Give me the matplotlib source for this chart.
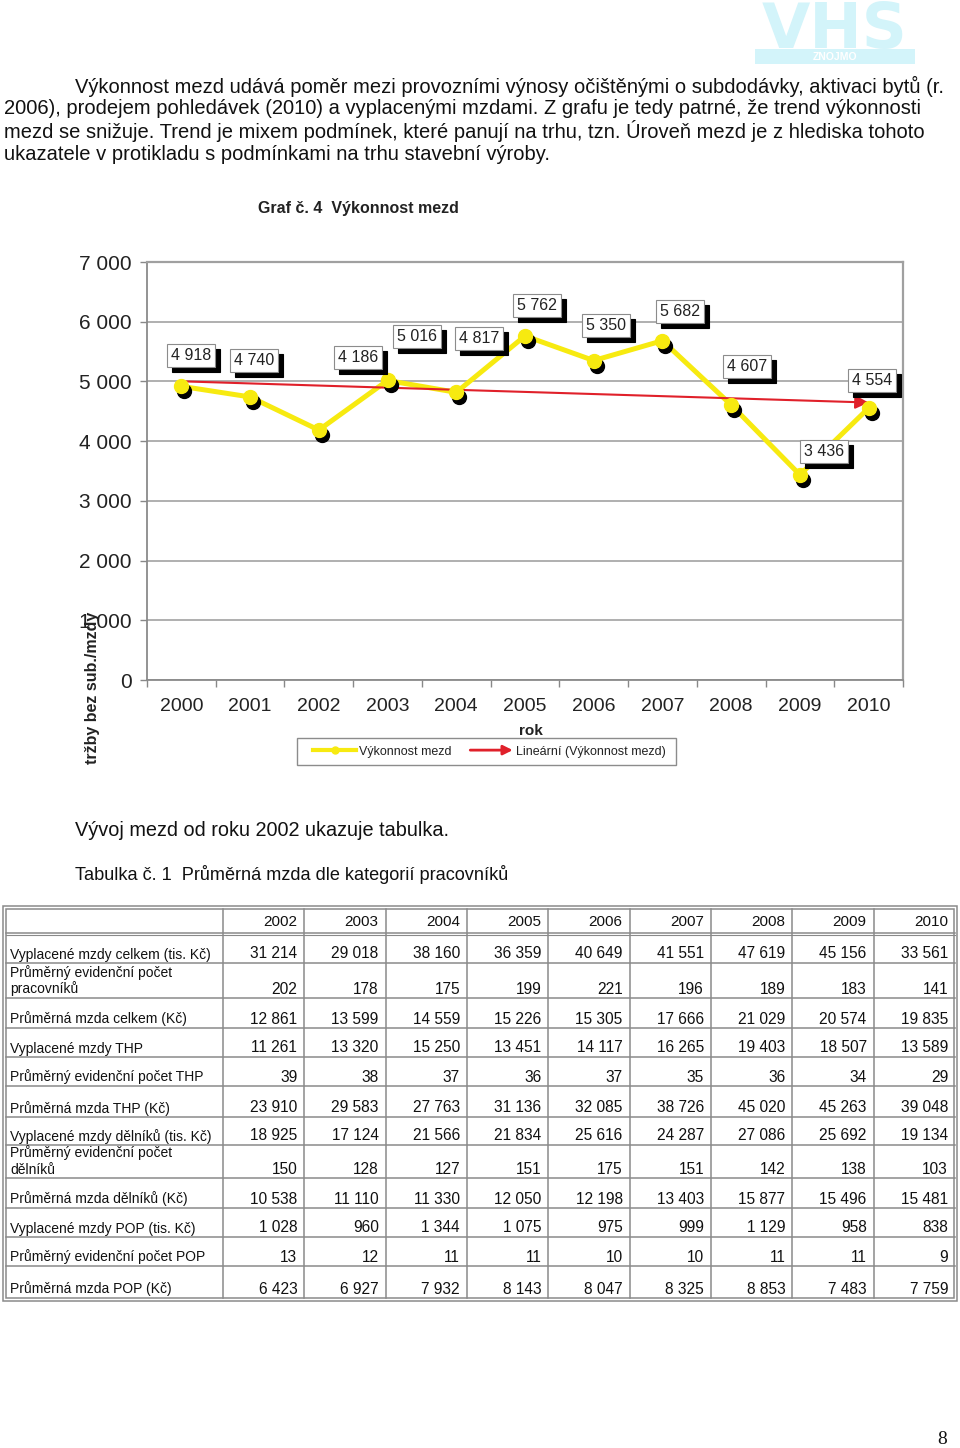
import matplotlib
matplotlib.use('Agg')
import matplotlib.pyplot as plt
import numpy as np
import matplotlib.transforms as mtransforms
from matplotlib.patches import Rectangle, FancyArrowPatch
from matplotlib.lines import Line2D
from matplotlib.legend_handler import HandlerBase
from matplotlib.ticker import FuncFormatter

plt.rcParams['font.family'] = ['Liberation Sans', 'DejaVu Sans']

# ---------------- data ----------------
years = ['2000', '2001', '2002', '2003', '2004', '2005', '2006', '2007', '2008', '2009', '2010']
vykonnost = [4918, 4740, 4186, 5016, 4817, 5762, 5350, 5682, 4607, 3436, 4554]
series_name = 'Výkonnost mezd'
trend_name = 'Lineární (Výkonnost mezd)'
y_ticks = [0, 1000, 2000, 3000, 4000, 5000, 6000, 7000]

table_years = ['2002', '2003', '2004', '2005', '2006', '2007', '2008', '2009', '2010']
row_labels = [
    'Vyplacené mzdy celkem (tis. Kč)',
    'Průměrný evidenční počet\npracovníků',
    'Průměrná mzda celkem (Kč)',
    'Vyplacené mzdy THP',
    'Průměrný evidenční počet THP',
    'Průměrná mzda THP (Kč)',
    'Vyplacené mzdy dělníků (tis. Kč)',
    'Průměrný evidenční počet\ndělníků',
    'Průměrná mzda dělníků (Kč)',
    'Vyplacené mzdy POP (tis. Kč)',
    'Průměrný evidenční počet POP',
    'Průměrná mzda POP (Kč)',
]
mzdy_celkem = [31214, 29018, 38160, 36359, 40649, 41551, 47619, 45156, 33561]
pocet_celkem = [202, 178, 175, 199, 221, 196, 189, 183, 141]
mzda_celkem = [12861, 13599, 14559, 15226, 15305, 17666, 21029, 20574, 19835]
mzdy_thp = [11261, 13320, 15250, 13451, 14117, 16265, 19403, 18507, 13589]
pocet_thp = [39, 38, 37, 36, 37, 35, 36, 34, 29]
mzda_thp = [23910, 29583, 27763, 31136, 32085, 38726, 45020, 45263, 39048]
mzdy_delniku = [18925, 17124, 21566, 21834, 25616, 24287, 27086, 25692, 19134]
pocet_delniku = [150, 128, 127, 151, 175, 151, 142, 138, 103]
mzda_delniku = [10538, 11110, 11330, 12050, 12198, 13403, 15877, 15496, 15481]
mzdy_pop = [1028, 960, 1344, 1075, 975, 999, 1129, 958, 838]
pocet_pop = [13, 12, 11, 11, 10, 10, 11, 11, 9]
mzda_pop = [6423, 6927, 7932, 8143, 8047, 8325, 8853, 7483, 7759]
table_rows = [mzdy_celkem, pocet_celkem, mzda_celkem, mzdy_thp, pocet_thp, mzda_thp,
              mzdy_delniku, pocet_delniku, mzda_delniku, mzdy_pop, pocet_pop, mzda_pop]

paragraph = [
    'Výkonnost mezd udává poměr mezi provozními výnosy očištěnými o subdodávky, aktivaci bytů (r.',
    '2006), prodejem pohledávek (2010) a vyplacenými mzdami. Z grafu je tedy patrné, že trend výkonnosti',
    'mezd se snižuje. Trend je mixem podmínek, které panují na trhu, tzn. Úroveň mezd je z hlediska tohoto',
    'ukazatele v protikladu s podmínkami na trhu stavební výroby.',
]
chart_title = 'Graf č. 4  Výkonnost mezd'
x_title = 'rok'
y_title = 'tržby bez sub./mzdy'
after_text = 'Vývoj mezd od roku 2002 ukazuje tabulka.'
table_title = 'Tabulka č. 1  Průměrná mzda dle kategorií pracovníků'

# ---------------- style / layout ----------------
W, H = 960, 1448
YELLOW = '#f7ea10'
RED = '#e0202a'
GRID = '#9a9a9a'
LOGO = '#d3f4fa'
# label offsets in pixels (dx right, dy up)
label_offsets = [(10, 31), (4, 36), (39, 73), (29, 44), (23, 54), (12, 30),
                 (12, 35), (18, 29), (16, 38), (24, 23), (3, 28)]

fmt = lambda v: f'{int(v):,}'.replace(',', ' ')

fig = plt.figure(figsize=(W / 100, H / 100), dpi=100)
page = fig.add_axes([0, 0, 1, 1])
page.set_xlim(0, W)
page.set_ylim(H, 0)
page.axis('off')


def px_rect(l, t, r, b):
    return [l / W, 1 - b / H, (r - l) / W, (b - t) / H]


# logo
page.text(835, 48, 'VHS', fontsize=45, fontweight='bold', color=LOGO,
          family=['DejaVu Sans'], ha='center', va='baseline')
page.add_patch(Rectangle((755, 49), 160, 15, color=LOGO, lw=0))
page.text(835, 56.5, 'ZNOJMO', fontsize=7.5, fontweight='bold', color='white',
          ha='center', va='center')

# paragraph
para_x = [75, 4, 4, 4]
para_y = [86, 108, 131, 154]
for t, xx, yy in zip(paragraph, para_x, para_y):
    page.text(xx, yy, t, fontsize=14.5, va='center', ha='left', color='#111')

page.text(258, 209, chart_title, fontsize=11.5, fontweight='bold', va='center', color='#222')

# ---------------- chart ----------------
ax = fig.add_axes(px_rect(147, 262, 903, 680))
ax.set_zorder(2)
x = np.arange(len(years))
ax.plot(x, vykonnost, color=YELLOW, lw=3.6, zorder=3, solid_joinstyle='round')

coef = np.polyfit(x, vykonnost, 1)
t0, t1 = np.polyval(coef, [x[0], x[-1]])
ax.annotate('', xy=(x[-1], t1), xytext=(x[0], t0),
            arrowprops=dict(arrowstyle='-|>', color=RED, lw=1.5, mutation_scale=20,
                            shrinkA=0, shrinkB=0), zorder=3.5)

shadow = mtransforms.offset_copy(ax.transData, fig=fig, x=3, y=-5, units='dots')
ax.plot(x, vykonnost, 'o', color='black', ms=10, transform=shadow, zorder=3.6)
ax.plot(x, vykonnost, 'o', color=YELLOW, ms=10, zorder=3.8)

for i, v in enumerate(vykonnost):
    dx, dy = label_offsets[i]
    ax.annotate(fmt(v), xy=(x[i], v), xytext=((dx + 5) * 0.72, (dy - 5) * 0.72),
                textcoords='offset points', ha='center', va='center', fontsize=11.5,
                color='black', zorder=4.8,
                bbox=dict(boxstyle='square,pad=0.25', fc='black', ec='black', lw=0.8))
    ax.annotate(fmt(v), xy=(x[i], v), xytext=(dx * 0.72, dy * 0.72),
                textcoords='offset points', ha='center', va='center', fontsize=11.5,
                color='#222', zorder=5,
                bbox=dict(boxstyle='square,pad=0.25', fc='white', ec='#8c8c8c', lw=0.8))

ax.set_xlim(-0.5, len(years) - 0.5)
ax.set_ylim(y_ticks[0], y_ticks[-1])
ax.set_yticks(y_ticks)
ax.yaxis.set_major_formatter(FuncFormatter(lambda v, p: fmt(v)))
ax.set_xticks(np.arange(-0.5, len(years), 1))
ax.set_xticklabels([])
ax.set_xticks(x, minor=True)
ax.set_xticklabels(years, minor=True)
ax.tick_params(axis='x', which='major', length=5, width=1, color='#888', direction='out')
ax.tick_params(axis='x', which='minor', length=0, pad=13, labelsize=14, labelcolor='#222')
ax.tick_params(axis='y', length=5, width=1, color='#888', direction='out', pad=6,
               labelsize=15, labelcolor='#222')
ax.yaxis.grid(True, color=GRID, lw=1.1)
ax.set_axisbelow(True)
for s in ['left', 'bottom']:
    ax.spines[s].set_color('#8a8a8a')
    ax.spines[s].set_linewidth(1.3)
for s in ['top', 'right']:
    ax.spines[s].set_color('#a0a0a0')
    ax.spines[s].set_linewidth(1.6)

page.text(531, 731, x_title, fontsize=11, fontweight='bold', ha='center', va='center', color='#222')
page.text(93, 688, y_title, fontsize=11.5, fontweight='bold', rotation=90,
          ha='center', va='center', color='#222')


class ArrowHandle:
    pass


class HandlerArrow(HandlerBase):
    def create_artists(self, legend, orig_handle, xdescent, ydescent, width, height,
                       fontsize, trans):
        yy = height / 2 - ydescent
        a = FancyArrowPatch((-xdescent, yy), (width - xdescent, yy), arrowstyle='-|>',
                            mutation_scale=14, color=RED, lw=2, shrinkA=0, shrinkB=0,
                            transform=trans)
        return [a]


# legend frame drawn separately (wide horizontal padding as in the reference)
page.add_patch(Rectangle((297, 738), 379, 27, fill=False, ec='#8c8c8c', lw=1.0, zorder=5))
leg_handles = [Line2D([], [], color=YELLOW, lw=3, marker='o', ms=5), ArrowHandle()]
leg = fig.legend(leg_handles, [series_name, trend_name],
                 handler_map={ArrowHandle: HandlerArrow()},
                 loc='center', bbox_to_anchor=(489.5 / W, 1 - 751.5 / H), ncol=2,
                 fontsize=9, frameon=False, handlelength=3.4, handletextpad=0.25,
                 columnspacing=1.5, borderpad=0.3, borderaxespad=0)
for t in leg.get_texts():
    t.set_color('#222')

# ---------------- texts below ----------------
page.text(75, 830, after_text, fontsize=14.3, va='center', color='#111')
page.text(75, 875, table_title, fontsize=13.1, va='center', color='#111')

# ---------------- table ----------------
LC = '#8a8a8a'
col_edges = [6, 223] + list(np.linspace(223, 955, 10)[1:])
row_bottoms = [933, 963, 998, 1028, 1057, 1086, 1117, 1145, 1178, 1208, 1237, 1266, 1298]
top_in = 909
page.add_patch(Rectangle((3, 906), 954, 395, fill=False, ec=LC, lw=1.1))
page.add_patch(Rectangle((6, 909), 948, 389, fill=False, ec=LC, lw=1.1))
for ce in col_edges[1:-1]:
    page.plot([ce, ce], [top_in, 1298], color=LC, lw=1.1)
for rb in row_bottoms[:-1]:
    page.plot([6, 955], [rb, rb], color=LC, lw=1.1)
page.plot([6, 955], [row_bottoms[0] + 2, row_bottoms[0] + 2], color=LC, lw=0.8)

for j, yr in enumerate(table_years):
    page.text(col_edges[j + 2] - 7, row_bottoms[0] - 6.5, yr, fontsize=11,
              ha='right', va='baseline', color='#111')

for i, (lab, vals) in enumerate(zip(row_labels, table_rows)):
    base = row_bottoms[i + 1] - 4.5
    lines = lab.split('\n')
    for k, ln in enumerate(reversed(lines)):
        page.text(10, base - 16 * k, ln, fontsize=10, ha='left', va='baseline', color='#111')
    for j, v in enumerate(vals):
        page.text(col_edges[j + 2] - 7, base, fmt(v), fontsize=11.2, ha='right',
                  va='baseline', color='#111')

page.text(942, 1440, '8', fontsize=14, family=['Liberation Serif'], ha='center',
          va='center', color='#111')

fig.savefig('out.png', dpi=100, facecolor='white')
